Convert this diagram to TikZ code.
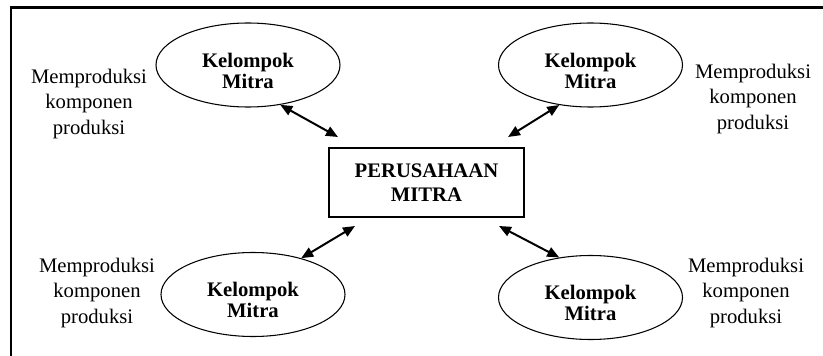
\documentclass[tikz,border=0pt]{standalone}
\usepackage{fontspec}
\setmainfont{Liberation Serif}
\usetikzlibrary{arrows.meta,shapes.geometric}
\begin{document}
\begin{tikzpicture}[x=0.75pt,y=-0.75pt,
  frameline/.style={line width=2pt},
  ell/.style={draw,ellipse,line width=0.8pt,minimum width=138pt,minimum height=63pt,inner sep=0pt},
  ktext/.style={font=\fontsize{15.5}{15.8}\selectfont\bfseries,align=center,inner sep=0pt},
  lbl/.style={font=\fontsize{15.5}{19}\selectfont,align=center,inner sep=0pt},
  mainbox/.style={draw,line width=1pt,minimum width=146.25pt,minimum height=51.75pt,inner sep=0pt,
    font=\fontsize{15.5}{18}\selectfont\bfseries,align=center},
  link/.style={line width=1.5pt,{Triangle[length=9pt,width=7.5pt]}-{Triangle[length=9pt,width=7.5pt]}}]
\useasboundingbox (0,0) rectangle (823,356);
\coordinate (f1) at (11,356);
\coordinate (f2) at (11,7.5);
\coordinate (f3) at (823,7.5);
\draw[frameline] (f1) -- (f2) -- (f3);

\node[mainbox] (pm) at (426.5,182.5) {PERUSAHAAN\\MITRA};

\node[ell] (tl) at (248,65) {};
\node[ktext] (tlt) at (248,70.5) {Kelompok\\Mitra};
\node[ell] (tr) at (590.5,65) {};
\node[ktext] (trt) at (590.5,70.5) {Kelompok\\Mitra};
\node[ell] (bl) at (253,294.5) {};
\node[ktext] (blt) at (253,300) {Kelompok\\Mitra};
\node[ell] (br) at (590.5,297.5) {};
\node[ktext] (brt) at (590.5,303) {Kelompok\\Mitra};

\node[lbl] (l1) at (89,104) {Memproduksi\\komponen\\produksi};
\node[lbl] (l2) at (753,99) {Memproduksi\\komponen\\produksi};
\node[lbl] (l3) at (97,293) {Memproduksi\\komponen\\produksi};
\node[lbl] (l4) at (746,293) {Memproduksi\\komponen\\produksi};

\coordinate (a1) at (338,137);
\coordinate (a2) at (508,137);
\coordinate (a3) at (355,226);
\coordinate (a4) at (499,226);
\draw[link] (tl.-51) -- (a1);
\draw[link] (tr.-128.6) -- (a2);
\draw[link] (bl.37.6) -- (a3);
\draw[link] (br.128.9) -- (a4);
\end{tikzpicture}
\end{document}
